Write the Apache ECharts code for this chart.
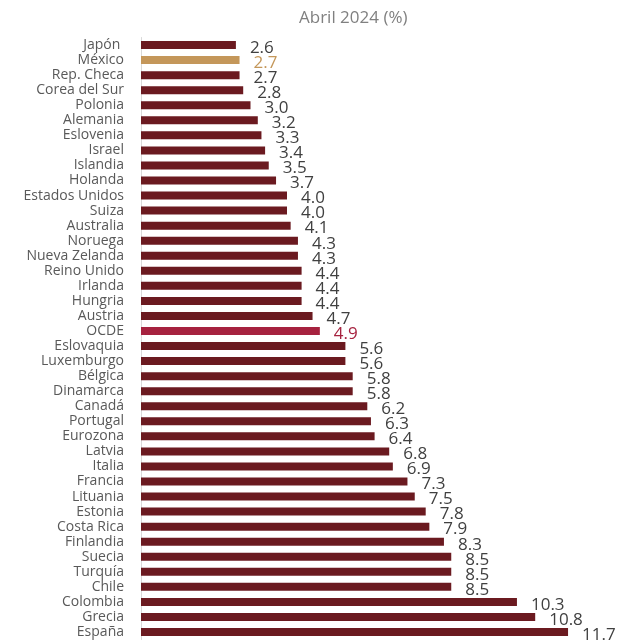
<!DOCTYPE html>
<html>
<head>
<meta charset="utf-8">
<script src="https://cdn.jsdelivr.net/npm/echarts@6/dist/echarts.min.js"></script>
<style>
html,body{margin:0;padding:0;background:#fff;}
#c{width:622px;height:641px;}
</style>
</head>
<body>
<div id="c"></div>
<script>
var categories = ["Japón ","México","Rep. Checa","Corea del Sur","Polonia","Alemania","Eslovenia","Israel","Islandia","Holanda","Estados Unidos","Suiza","Australia","Noruega","Nueva Zelanda","Reino Unido","Irlanda","Hungria","Austria","OCDE","Eslovaquia","Luxemburgo","Bélgica","Dinamarca","Canadá","Portugal","Eurozona","Latvia","Italia","Francia","Lituania","Estonia","Costa Rica","Finlandia","Suecia","Turquía","Chile","Colombia","Grecia","España"];
var values = [2.6,2.7,2.7,2.8,3.0,3.2,3.3,3.4,3.5,3.7,4.0,4.0,4.1,4.3,4.3,4.4,4.4,4.4,4.7,4.9,5.6,5.6,5.8,5.8,6.2,6.3,6.4,6.8,6.9,7.3,7.5,7.8,7.9,8.3,8.5,8.5,8.5,10.3,10.8,11.7];
var subtitle = "Abril 2024 (%)";

var baseColor = "#6B1A20";
var highlight = {"México": "#C4975A", "OCDE": "#A6223F"};

var seriesData = values.map(function(v, i){
  var name = categories[i];
  var c = highlight[name];
  var item = {value: v};
  if (c) {
    item.itemStyle = {color: c};
    item.label = {color: c};
  }
  return item;
});

var chart = echarts.init(document.getElementById('c'));
chart.setOption({
  animation: false,
  backgroundColor: '#fff',
  title: {
    text: subtitle,
    left: 294,
    top: 5,
    textStyle: {fontFamily: 'Open Sans', fontSize: 17, fontWeight: 'normal', color: '#808080'}
  },
  grid: {left: 141, right: 43, top: 37.5, bottom: 1.5, containLabel: false},
  xAxis: {
    type: 'value', min: 0, max: 12, show: false
  },
  yAxis: {
    type: 'category',
    data: categories,
    inverse: true,
    axisLine: {show: true, lineStyle: {color: '#d9d9d9', width: 1}},
    axisTick: {show: false},
    axisLabel: {
      interval: 0,
      margin: 17,
      fontFamily: 'Open Sans',
      fontSize: 14,
      color: '#595959'
    }
  },
  series: [{
    type: 'bar',
    data: seriesData,
    barWidth: 8,
    itemStyle: {color: baseColor},
    label: {
      show: true,
      position: 'right',
      distance: 14,
      offset: [0, 3],
      fontFamily: 'Open Sans',
      fontSize: 17,
      color: '#404040',
      formatter: function(p){ return p.value.toFixed(1); }
    }
  }]
});
</script>
</body>
</html>
